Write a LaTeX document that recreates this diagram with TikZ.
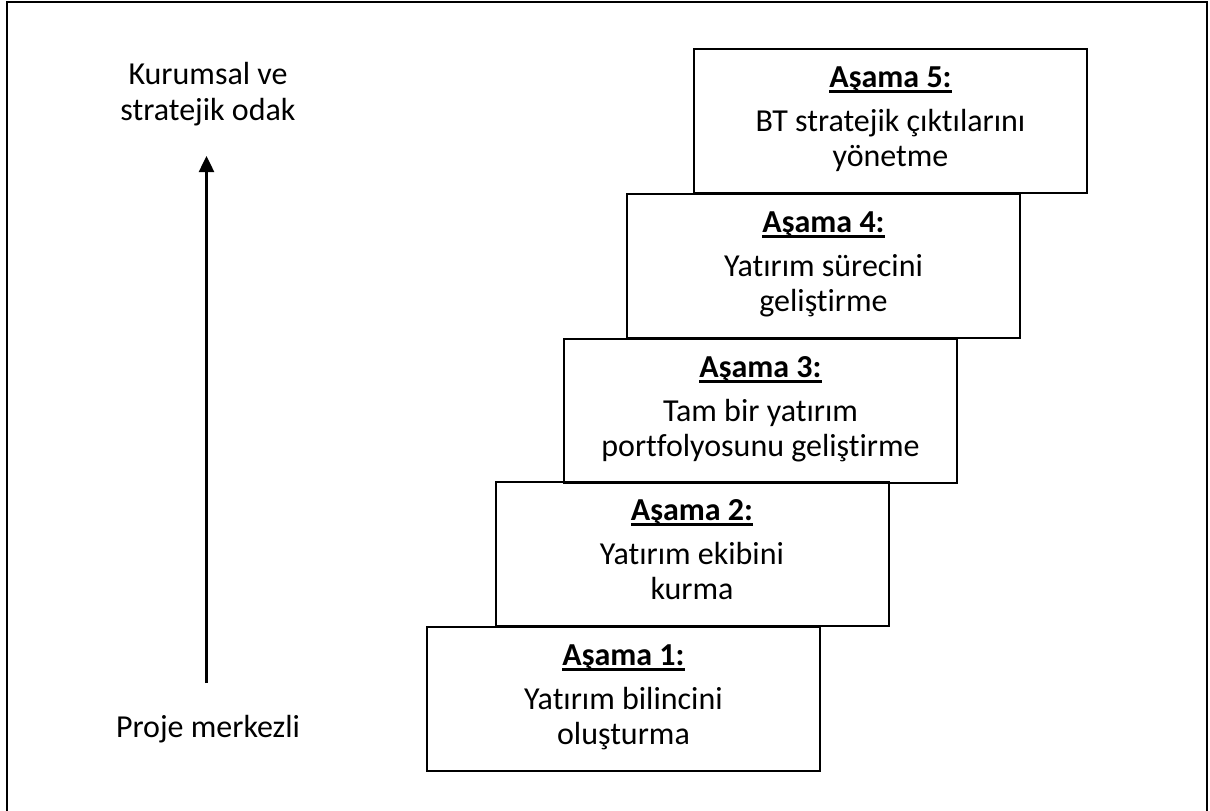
\documentclass[tikz,border=0pt]{standalone}
\usepackage{fontspec}
\setmainfont{Carlito}[Ligatures=NoCommon]
\usetikzlibrary{arrows.meta}
% bold heading with a heavy underline close to the baseline
\newcommand{\stagehead}[1]{\setbox0\hbox{\textbf{#1}}\leavevmode\rlap{\rule[-5.5pt]{\wd0}{2.5pt}}\box0}
\begin{document}
\begin{tikzpicture}[x=1pt,y=-1pt,
  stagebox/.style={draw=black, line width=2pt, minimum width=393pt,
    minimum height=144pt, inner sep=0pt},
  % anchored at the baseline of the last line
  stagetext/.style={align=center, inner sep=0pt, anchor=base,
    font=\fontsize{32}{35}\selectfont},
  sidelabel/.style={align=center, inner sep=0pt, anchor=base,
    font=\fontsize{32}{36}\selectfont}]
  \useasboundingbox (0,0) rectangle (1210,811);
  \clip (0,0) rectangle (1210,811);
  % outer frame, its lower edge runs off the page
  \draw[line width=2pt] (7,1.5) rectangle (1207,830);

  % stair of stages, from the lowest upwards
  \node[stagebox] (s1) at (623.5,699) {};
  \node[stagebox] (s2) at (692,554)   {};
  \node[stagebox] (s3) at (760.5,411) {};
  \node[stagebox] (s4) at (823.5,266) {};
  \node[stagebox] (s5) at (890.5,121) {};

  \node[stagetext] (t1) at ([yshift=-118pt]s1.north) {\stagehead{Aşama 1:}\\[9pt]Yatırım bilincini\\oluşturma};
  \node[stagetext] (t2) at ([yshift=-118pt]s2.north) {\stagehead{Aşama 2:}\\[9pt]Yatırım ekibini\\kurma};
  \node[stagetext] (t3) at ([yshift=-118pt]s3.north) {\stagehead{Aşama 3:}\\[9pt]Tam bir yatırım\\portfolyosunu geliştirme};
  \node[stagetext] (t4) at ([yshift=-118pt]s4.north) {\stagehead{Aşama 4:}\\[9pt]Yatırım sürecini\\geliştirme};
  \node[stagetext] (t5) at ([yshift=-118pt]s5.north) {\stagehead{Aşama 5:}\\[9pt]BT stratejik çıktılarını\\yönetme};

  % focus axis on the left
  \node[sidelabel] (high) at (208,120) {Kurumsal ve\\stratejik odak};
  \node[sidelabel] (low) at (208,737) {Proje merkezli};
  \coordinate (arrowfoot) at (206.5,683);
  \coordinate (arrowtip) at (206.5,156);
  \draw[line width=2.5pt, -{Triangle[length=16pt,width=15pt]}] (arrowfoot) -- (arrowtip);
\end{tikzpicture}
\end{document}
